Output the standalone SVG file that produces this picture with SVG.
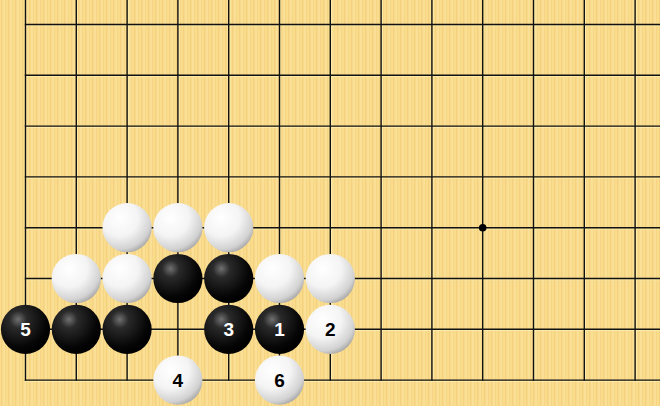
<svg xmlns="http://www.w3.org/2000/svg" width="660" height="406" viewBox="0 0 660 406">
<defs>
<pattern id="wood" width="7" height="406" patternUnits="userSpaceOnUse">
<rect width="7" height="406" fill="#F9DC8C"/>
<rect x="1" width="1.2" height="406" fill="#F5D17F"/>
<rect x="3.5" width="1" height="406" fill="#FBE3A0"/>
<rect x="5" width="1" height="406" fill="#F6D585"/>
</pattern>
<radialGradient id="gb" cx="0.35" cy="0.3" r="0.7">
<stop offset="0" stop-color="#707070"/>
<stop offset="0.25" stop-color="#2a2a2a"/>
<stop offset="0.8" stop-color="#060606"/>
<stop offset="1" stop-color="#000"/>
</radialGradient>
<radialGradient id="gw" cx="0.35" cy="0.3" r="0.75">
<stop offset="0" stop-color="#ffffff"/>
<stop offset="0.5" stop-color="#f4f4f4"/>
<stop offset="0.85" stop-color="#d2d2d2"/>
<stop offset="1" stop-color="#a8a8a8"/>
</radialGradient>
<style>
.ln{stroke:#111;stroke-width:1.4;fill:none}
.hl{stroke:#FFF4B8;stroke-width:1;fill:none;opacity:0.7}
.b{fill:url(#gb)}
.w{fill:url(#gw)}
.t{font-family:"Liberation Sans",Arial,sans-serif;font-weight:bold;font-size:19px;text-anchor:middle}
.tb{fill:#fff}
.tw{fill:#000}
</style>
</defs>
<rect width="660" height="406" fill="url(#wood)"/>
<g id="grid">
<g class="hl">
<path d="M26.8 0V381 M77.6 0V381 M128.4 0V381 M179.2 0V381 M230 0V381 M280.8 0V381 M331.6 0V381 M382.4 0V381 M433.2 0V381 M484 0V381 M534.8 0V381 M585.6 0V381 M636.4 0V381"/>
<path d="M25.5 25.8H660 M25.5 76.6H660 M25.5 127.4H660 M25.5 178.2H660 M25.5 229H660 M25.5 279.8H660 M25.5 330.6H660 M25.5 381.4H660"/>
</g>
<g class="ln">
<path d="M25.5 0V380.8 M76.3 0V380.8 M127.1 0V380.8 M177.9 0V380.8 M228.7 0V380.8 M279.5 0V380.8 M330.3 0V380.8 M381.1 0V380.8 M431.9 0V380.8 M482.7 0V380.8 M533.5 0V380.8 M584.3 0V380.8 M635.1 0V380.8"/>
<path d="M24.8 24.5H660 M24.8 75.3H660 M24.8 126.1H660 M24.8 176.9H660 M24.8 227.7H660 M24.8 278.5H660 M24.8 329.3H660 M24.8 380.1H660"/>
</g>
<circle cx="482.7" cy="227.7" r="3.8" fill="#000"/>
</g>
<g id="stones">
<g id="w1"><circle class="w" cx="127.1" cy="227.7" r="24.6"/></g>
<g id="w2"><circle class="w" cx="177.9" cy="227.7" r="24.6"/></g>
<g id="w3"><circle class="w" cx="228.7" cy="227.7" r="24.6"/></g>
<g id="w4"><circle class="w" cx="76.3" cy="278.5" r="24.6"/></g>
<g id="w5"><circle class="w" cx="127.1" cy="278.5" r="24.6"/></g>
<g id="b1"><circle class="b" cx="177.9" cy="278.5" r="24.6"/></g>
<g id="b2"><circle class="b" cx="228.7" cy="278.5" r="24.6"/></g>
<g id="w6"><circle class="w" cx="279.5" cy="278.5" r="24.6"/></g>
<g id="w7"><circle class="w" cx="330.3" cy="278.5" r="24.6"/></g>
<g id="m5"><circle class="b" cx="25.5" cy="329.3" r="24.6"/><text class="t tb" x="25.5" y="336.3">5</text></g>
<g id="b3"><circle class="b" cx="76.3" cy="329.3" r="24.6"/></g>
<g id="b4"><circle class="b" cx="127.1" cy="329.3" r="24.6"/></g>
<g id="m3"><circle class="b" cx="228.7" cy="329.3" r="24.6"/><text class="t tb" x="228.7" y="336.3">3</text></g>
<g id="m1"><circle class="b" cx="279.5" cy="329.3" r="24.6"/><text class="t tb" x="279.5" y="336.3">1</text></g>
<g id="m2"><circle class="w" cx="330.3" cy="329.3" r="24.6"/><text class="t tw" x="330.3" y="336.3">2</text></g>
<g id="m4"><circle class="w" cx="177.9" cy="380.1" r="24.6"/><text class="t tw" x="177.9" y="387.1">4</text></g>
<g id="m6"><circle class="w" cx="279.5" cy="380.1" r="24.6"/><text class="t tw" x="279.5" y="387.1">6</text></g>
</g>
</svg>
